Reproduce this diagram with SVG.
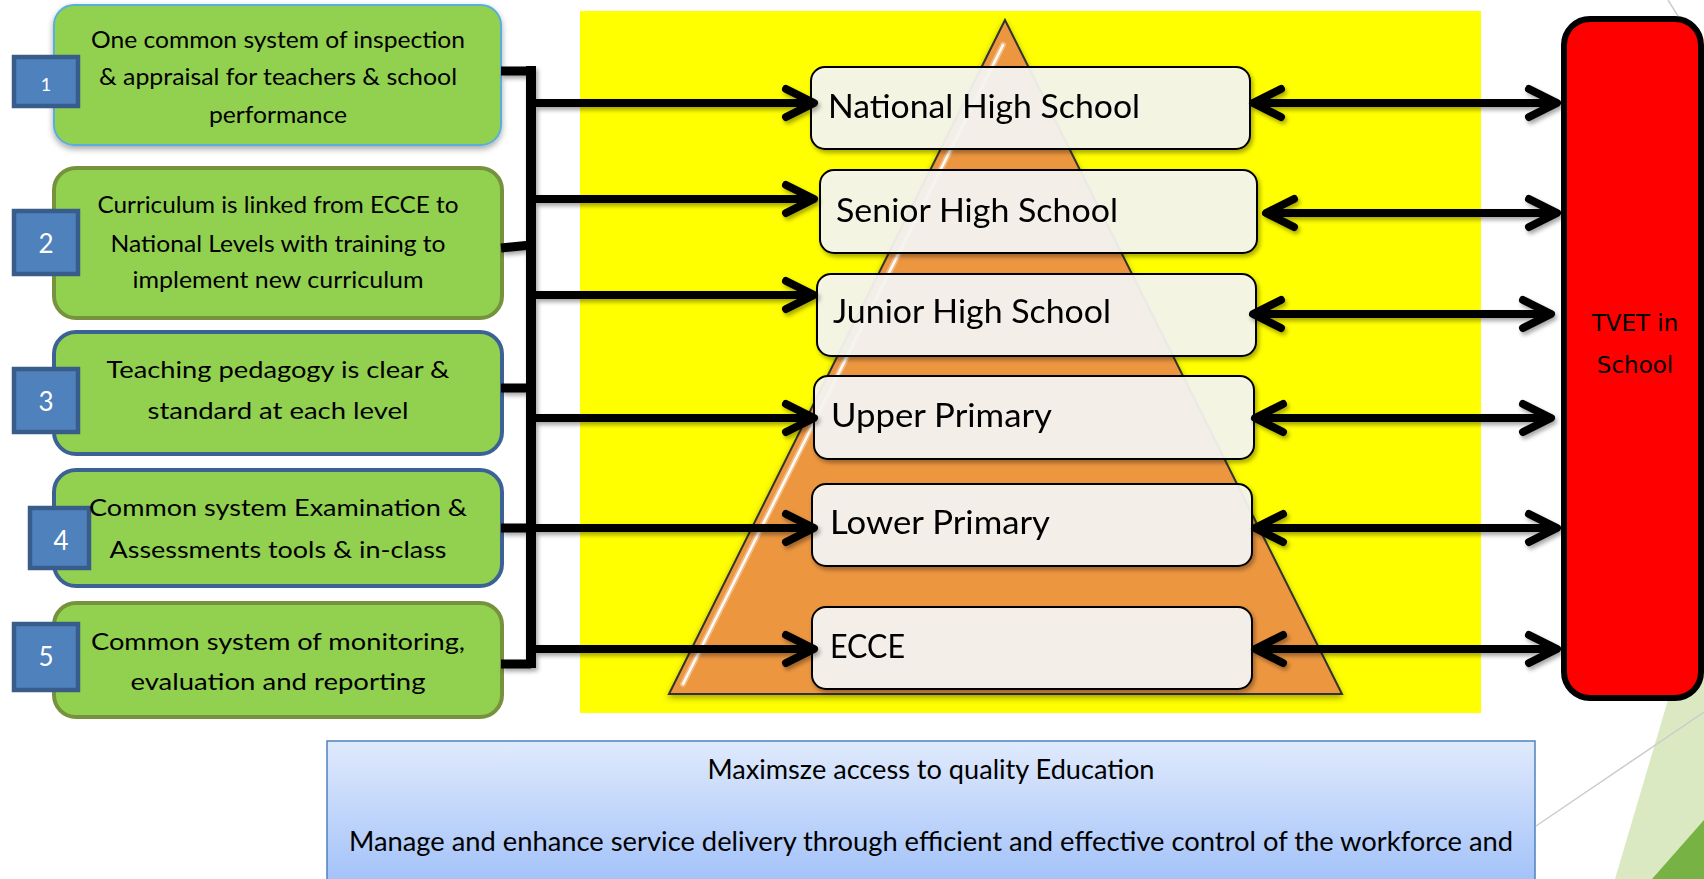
<svg xmlns="http://www.w3.org/2000/svg" width="1704" height="879" viewBox="0 0 1704 879">
<defs>
<style>
.lbox{fill:#92d050;}
.olive{stroke:#76923c;stroke-width:4;}
.blue{stroke:#3c6295;stroke-width:4;}
.num{fill:#4f81bd;stroke:#385d8a;stroke-width:4.5;}
.numt{font-family:Lato,"Liberation Sans",sans-serif;fill:#ffffff;text-anchor:middle;}
.lt{font-family:Lato,"Liberation Sans",sans-serif;font-size:24px;fill:#000;text-anchor:middle;}
.lvl{fill:#f6f6f3;fill-opacity:0.92;stroke:#000;stroke-width:2;}
.lvt{font-family:Lato,"Liberation Sans",sans-serif;font-size:33px;fill:#000;}
.bar{stroke:#000;stroke-width:9;fill:none;}
.arr{stroke:#000;stroke-width:8;fill:none;}
.bt{font-family:Lato,"Liberation Sans",sans-serif;font-size:26px;fill:#000;text-anchor:middle;}
.deco{stroke:#cccccc;stroke-width:1.5;fill:none;}
</style>
<marker id="ah" viewBox="-36 -20 42 40" markerWidth="42" markerHeight="40" refX="0" refY="0" orient="auto-start-reverse" markerUnits="userSpaceOnUse">
<path d="M-28,-14 L0,0 L-28,14" fill="none" stroke="#000" stroke-width="8" stroke-linecap="round" stroke-linejoin="round"/>
</marker>
<filter id="sh" x="-10%" y="-10%" width="120%" height="130%">
<feDropShadow dx="0" dy="3" stdDeviation="3" flood-color="#000" flood-opacity="0.35"/>
</filter>
<filter id="sh2" x="-10%" y="-10%" width="120%" height="130%">
<feDropShadow dx="2" dy="3" stdDeviation="2" flood-color="#000" flood-opacity="0.35"/>
</filter>
<linearGradient id="bg" x1="0" y1="741" x2="0" y2="879" gradientUnits="userSpaceOnUse">
<stop offset="0" stop-color="#e0eafc"/>
<stop offset="1" stop-color="#a4c3f9"/>
</linearGradient>
</defs>

<rect x="0" y="0" width="1704" height="879" fill="#ffffff"/>

<g id="decoration">
<polygon points="1704,578 1615,879 1704,879" fill="#dbe9c3"/>
<polygon points="1652,879 1704,820 1704,879" fill="#77b244"/>
<line class="deco" x1="1536" y1="826" x2="1704" y2="712"/>
<line class="deco" x1="1668" y1="0" x2="1690" y2="35"/>
</g>

<rect id="background" x="580" y="11" width="901" height="702" fill="#ffff00"/>

<g id="pyramid">
<polygon points="1005,20 669,694 1342,694" fill="#ed963f" stroke="#333333" stroke-width="2" filter="url(#sh)"/>
<line x1="1003" y1="45" x2="683" y2="684" stroke="#ffffff" stroke-width="6" stroke-opacity="0.35" stroke-linecap="round"/>
<line x1="1003" y1="45" x2="683" y2="684" stroke="#ffffff" stroke-width="2.5" stroke-opacity="0.95" stroke-linecap="round"/>
</g>

<g id="level-national" filter="url(#sh2)">
<rect class="lvl" x="811" y="67" width="439" height="82" rx="14"/>
<text class="lvt" x="828" y="118" textLength="312" lengthAdjust="spacingAndGlyphs">National High School</text>
</g>
<g id="level-senior" filter="url(#sh2)">
<rect class="lvl" x="820" y="170" width="437" height="83" rx="14"/>
<text class="lvt" x="836" y="222" textLength="282" lengthAdjust="spacingAndGlyphs">Senior High School</text>
</g>
<g id="level-junior" filter="url(#sh2)">
<rect class="lvl" x="817" y="274" width="439" height="82" rx="14"/>
<text class="lvt" x="833" y="323" textLength="278" lengthAdjust="spacingAndGlyphs">Junior High School</text>
</g>
<g id="level-upper" filter="url(#sh2)">
<rect class="lvl" x="814" y="376" width="440" height="83" rx="14"/>
<text class="lvt" x="831" y="427" textLength="221" lengthAdjust="spacingAndGlyphs">Upper Primary</text>
</g>
<g id="level-lower" filter="url(#sh2)">
<rect class="lvl" x="812" y="484" width="440" height="82" rx="14"/>
<text class="lvt" x="830" y="534" textLength="220" lengthAdjust="spacingAndGlyphs">Lower Primary</text>
</g>
<g id="level-ecce" filter="url(#sh2)">
<rect class="lvl" x="812" y="607" width="440" height="82" rx="14"/>
<text class="lvt" x="830" y="658" textLength="75" lengthAdjust="spacingAndGlyphs">ECCE</text>
</g>

<g id="box1">
<rect class="lbox" x="54" y="5" width="447" height="140" rx="20" stroke="#5aaede" stroke-width="2" filter="url(#sh)"/>
<rect class="num" x="14" y="57" width="64" height="49"/>
<text class="numt" x="46" y="91" font-size="18">1</text>
<text class="lt" x="278" y="48" textLength="374" lengthAdjust="spacingAndGlyphs">One common system of inspection</text>
<text class="lt" x="278" y="85" textLength="358" lengthAdjust="spacingAndGlyphs">&amp; appraisal for teachers &amp; school</text>
<text class="lt" x="278" y="123" textLength="138" lengthAdjust="spacingAndGlyphs">performance</text>
</g>

<g id="box2">
<rect class="lbox olive" x="54" y="168" width="448" height="150" rx="22"/>
<rect class="num" x="14" y="211" width="64" height="63"/>
<text class="numt" x="46" y="253" font-size="26">2</text>
<text class="lt" x="278" y="213" textLength="361" lengthAdjust="spacingAndGlyphs">Curriculum is linked from ECCE to</text>
<text class="lt" x="278" y="252" textLength="335" lengthAdjust="spacingAndGlyphs">National Levels with training to</text>
<text class="lt" x="278" y="288" textLength="291" lengthAdjust="spacingAndGlyphs">implement new curriculum</text>
</g>

<g id="box3">
<rect class="lbox blue" x="54" y="332" width="448" height="122" rx="22"/>
<rect class="num" x="14" y="369" width="64" height="63"/>
<text class="numt" x="46" y="411" font-size="26">3</text>
<text class="lt" x="278" y="378" textLength="343" lengthAdjust="spacingAndGlyphs">Teaching pedagogy is clear &amp;</text>
<text class="lt" x="278" y="419" textLength="261" lengthAdjust="spacingAndGlyphs">standard at each level</text>
</g>

<g id="box4">
<rect class="lbox blue" x="54" y="470" width="448" height="116" rx="22"/>
<rect class="num" x="30" y="508" width="59" height="60"/>
<text class="numt" x="61" y="550" font-size="26">4</text>
<text class="lt" x="278" y="516" textLength="378" lengthAdjust="spacingAndGlyphs">Common system Examination &amp;</text>
<text class="lt" x="278" y="558" textLength="337" lengthAdjust="spacingAndGlyphs">Assessments tools &amp; in-class</text>
</g>

<g id="box5">
<rect class="lbox olive" x="54" y="603" width="448" height="114" rx="22"/>
<rect class="num" x="14" y="624" width="64" height="66"/>
<text class="numt" x="46" y="666" font-size="26">5</text>
<text class="lt" x="278" y="650" textLength="374" lengthAdjust="spacingAndGlyphs">Common system of monitoring,</text>
<text class="lt" x="278" y="690" textLength="295" lengthAdjust="spacingAndGlyphs">evaluation and reporting</text>
</g>

<g id="tvet">
<rect x="1564" y="19" width="137" height="679" rx="26" fill="#ff0000" stroke="#000" stroke-width="6"/>
<text x="1635" y="331" font-family="'DejaVu Sans',Verdana,sans-serif" font-size="23" fill="#000" text-anchor="middle">TVET in</text>
<text x="1635" y="373" font-family="'DejaVu Sans',Verdana,sans-serif" font-size="23" fill="#000" text-anchor="middle">School</text>
</g>

<g id="goals">
<rect x="327" y="741" width="1208" height="160" fill="url(#bg)" stroke="#4f81bd" stroke-width="1.5"/>
<text class="bt" x="931" y="779" textLength="447" lengthAdjust="spacingAndGlyphs">Maximsze access to quality Education</text>
<text class="bt" x="931" y="851" textLength="1164" lengthAdjust="spacingAndGlyphs">Manage and enhance service delivery through efficient and effective control of the workforce and</text>
</g>

<g id="connectors" filter="url(#sh2)">
<path class="bar" d="M501,71 H531 M501,248 L531,245 M501,388 H531 M501,528 H531 M501,664 H531"/>
<line x1="531" y1="66" x2="531" y2="668" stroke="#000" stroke-width="10"/>
<line class="arr" x1="531" y1="103" x2="814" y2="103" marker-end="url(#ah)"/>
<line class="arr" x1="531" y1="199" x2="814" y2="199" marker-end="url(#ah)"/>
<line class="arr" x1="531" y1="295" x2="814" y2="295" marker-end="url(#ah)"/>
<line class="arr" x1="531" y1="418" x2="814" y2="418" marker-end="url(#ah)"/>
<line class="arr" x1="531" y1="528" x2="814" y2="528" marker-end="url(#ah)"/>
<line class="arr" x1="531" y1="649" x2="814" y2="649" marker-end="url(#ah)"/>
<line class="arr" x1="1253" y1="103" x2="1557" y2="103" marker-start="url(#ah)" marker-end="url(#ah)"/>
<line class="arr" x1="1266" y1="213" x2="1557" y2="213" marker-start="url(#ah)" marker-end="url(#ah)"/>
<line class="arr" x1="1253" y1="314" x2="1551" y2="314" marker-start="url(#ah)" marker-end="url(#ah)"/>
<line class="arr" x1="1255" y1="418" x2="1551" y2="418" marker-start="url(#ah)" marker-end="url(#ah)"/>
<line class="arr" x1="1255" y1="528" x2="1557" y2="528" marker-start="url(#ah)" marker-end="url(#ah)"/>
<line class="arr" x1="1255" y1="649" x2="1557" y2="649" marker-start="url(#ah)" marker-end="url(#ah)"/>
</g>
</svg>
